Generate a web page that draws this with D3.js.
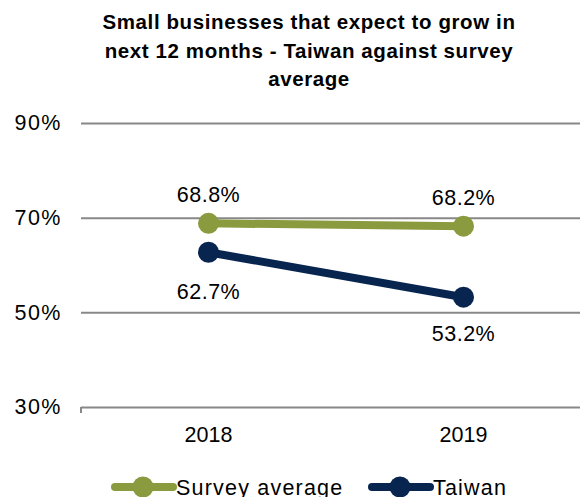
<!DOCTYPE html>
<html><head><meta charset="utf-8">
<script src="https://cdn.jsdelivr.net/npm/d3@7"></script>
<style>body{margin:0;background:#fff;}svg{display:block;font-family:"Liberation Sans",Arial,sans-serif;}</style>
</head><body>
<svg id="c" width="580" height="497"></svg>
<script>
const categories = ["2018", "2019"];
const surveyAverage = [68.8, 68.2];
const taiwan = [62.7, 53.2];
const yTicks = [30, 50, 70, 90];
const titleLines = ["Small businesses that expect to grow in", "next 12 months - Taiwan against survey", "average"];
const seriesNames = ["Survey average", "Taiwan"];
const colors = ["#8a9a3e", "#07254f"];

const svg = d3.select("#c");
const x = d3.scaleBand().domain(categories).range([81, 591]);
const y = d3.scaleLinear().domain([30, 90]).range([407, 123]);

// title
svg.append("g").selectAll("text").data(titleLines).join("text")
  .attr("x", 309).attr("y", (d, i) => 29 + i * 28.5)
  .attr("text-anchor", "middle").attr("font-weight", "bold").attr("font-size", 20.5)
  .attr("letter-spacing", 0.6)
  .attr("fill", "#000").text(d => d);

// grid
const yAxis = svg.append("g").attr("transform", "translate(81,0)")
  .call(d3.axisLeft(y).tickValues(yTicks).tickSize(-510).tickFormat(d => d + "%").tickPadding(19));
yAxis.select(".domain").remove();
yAxis.selectAll(".tick line").attr("stroke", "#888").attr("stroke-width", 2);
yAxis.selectAll(".tick text").attr("font-size", 21.5).attr("fill", "#000")
  .attr("letter-spacing", 1.5).attr("font-family", "Liberation Sans, Arial, sans-serif");

// x axis
const xAxis = svg.append("g").attr("transform", "translate(0,407)")
  .call(d3.axisBottom(x).tickSize(0).tickPadding(20));
xAxis.select(".domain").remove();
xAxis.selectAll(".tick text").attr("font-size", 21.5).attr("fill", "#000").attr("font-family", "Liberation Sans, Arial, sans-serif");
svg.append("line").attr("x1", 81).attr("x2", 81).attr("y1", 407).attr("y2", 413).attr("stroke", "#888").attr("stroke-width", 2);

const cx = d => x(d) + x.bandwidth() / 2;
const line = d3.line().x(d => cx(d.c)).y(d => y(d.v));
const series = [surveyAverage, taiwan];
series.forEach((vals, si) => {
  const data = categories.map((c, i) => ({c, v: vals[i]}));
  svg.append("path").datum(data).attr("d", line).attr("fill", "none")
    .attr("stroke", colors[si]).attr("stroke-width", 8);
  svg.append("g").selectAll("circle").data(data).join("circle")
    .attr("cx", d => cx(d.c)).attr("cy", d => y(d.v)).attr("r", 10.5).attr("fill", colors[si]);
});

// data labels
series.forEach((vals, si) => {
  svg.append("g").selectAll("text").data(categories.map((c, i) => ({c, v: vals[i], i}))).join("text")
    .attr("x", d => cx(d.c)).attr("y", d => y(d.v) + (si === 0 ? -21 : (d.i === 0 ? 47 : 44)))
    .attr("text-anchor", "middle").attr("font-size", 21.5).attr("fill", "#000")
    .attr("letter-spacing", 0.5)
    .text(d => d.v.toFixed(1) + "%");
});

// legend
const legend = [{x: 115, name: seriesNames[0], col: colors[0]}, {x: 372, name: seriesNames[1], col: colors[1]}];
const lg = svg.append("g");
legend.forEach(l => {
  lg.append("line").attr("x1", l.x).attr("x2", l.x + 58).attr("y1", 487).attr("y2", 487)
    .attr("stroke", l.col).attr("stroke-width", 8).attr("stroke-linecap", "round");
  lg.append("circle").attr("cx", l.x + 28).attr("cy", 487).attr("r", 10.5).attr("fill", l.col);
  lg.append("text").attr("x", l.x + 61).attr("y", 495).attr("font-size", 21.5)
    .attr("letter-spacing", 1.2).attr("fill", "#000").text(l.name);
});
</script>
</body></html>
